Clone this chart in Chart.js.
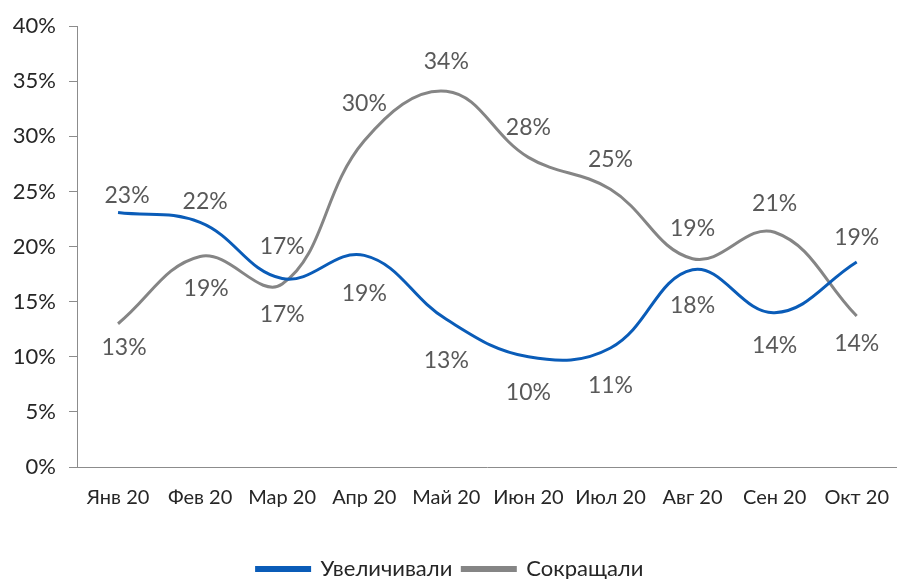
<!DOCTYPE html>
<html>
<head>
<meta charset="utf-8">
<script src="https://cdn.jsdelivr.net/npm/chart.js@4"></script>
<style>
  html, body { margin: 0; padding: 0; background: #fff; overflow: hidden; }
  #wrap { width: 900px; height: 590px; position: relative; }
</style>
</head>
<body>
<div id="wrap"><canvas id="c"></canvas></div>
<script>
// ---- data ----
const categories = ['Янв 20', 'Фев 20', 'Мар 20', 'Апр 20', 'Май 20', 'Июн 20', 'Июл 20', 'Авг 20', 'Сен 20', 'Окт 20'];
const increased = [23.1, 22.2, 17.1, 19.2, 13.4, 10.0, 10.8, 17.9, 14.0, 18.6];
const decreased = [13.0, 19.1, 16.6, 29.6, 34.1, 28.1, 25.2, 18.9, 21.3, 13.7];
const seriesNames = ['Увеличивали', 'Сокращали'];
const yMin = 0, yMax = 40, yStep = 5;

// ---- style (label placement, px) ----
const labelDy = [
  [-17, -21, 36, 38, 41, 36, 38, 36, 33, -24],
  [24, 32, -37, -37, -30, -30, -30, -30, -29, 28]
];
const labelDx = [
  [9, 5, 0, 0, 0, 0, 0, 0, 0, 0],
  [6, 6, 0, 0, 0, 0, 0, 0, 0, 0]
];

const FONT = "Lato, 'Open Sans', sans-serif";

const pointLabels = {
  id: 'pointLabels',
  afterDatasetsDraw(chart) {
    const ctx = chart.ctx;
    ctx.save();
    ctx.font = "23px " + FONT;
    ctx.fillStyle = '#595959';
    ctx.textAlign = 'center';
    ctx.textBaseline = 'middle';
    chart.data.datasets.forEach((ds, d) => {
      const meta = chart.getDatasetMeta(d);
      meta.data.forEach((pt, i) => {
        const v = ds.data[i];
        ctx.fillText(Math.round(v) + '%', pt.x + labelDx[d][i], pt.y + labelDy[d][i]);
      });
    });
    ctx.restore();
  }
};

new Chart(document.getElementById('c'), {
  type: 'line',
  data: {
    labels: categories,
    datasets: [
      { label: seriesNames[0], data: increased, borderColor: '#0A5CB8', backgroundColor: '#0A5CB8',
        borderWidth: 3, pointRadius: 0, tension: 0.4, fill: false },
      { label: seriesNames[1], data: decreased, borderColor: '#858585', backgroundColor: '#858585',
        borderWidth: 3, pointRadius: 0, tension: 0.4, fill: false }
    ]
  },
  options: {
    responsive: true,
    maintainAspectRatio: false,
    animation: false,
    layout: { padding: { top: 23, left: 0, right: 0, bottom: 0 } },
    plugins: {
      tooltip: { enabled: false },
      legend: {
        position: 'bottom',
        labels: {
          boxWidth: 53, boxHeight: 3, padding: 10,
          color: '#262626',
          font: { family: FONT, size: 22 }
        }
      }
    },
    scales: {
      x: {
        offset: true,
        grid: { display: false },
        border: { display: true, color: '#8C8C8C', width: 1 },
        ticks: { color: '#262626', font: { family: FONT, size: 20 }, padding: 11, maxRotation: 0, autoSkip: false },
        afterFit(s) { s.height = 81; }
      },
      y: {
        min: yMin, max: yMax,
        ticks: { stepSize: yStep, color: '#262626', font: { family: FONT, size: 22 }, padding: 13,
                 callback: v => v + '%' },
        grid: { drawOnChartArea: false, drawTicks: true, tickLength: 8, color: '#8C8C8C' },
        border: { display: true, color: '#8C8C8C', width: 1 },
        afterFit(s) { s.width = 77; }
      }
    }
  },
  plugins: [pointLabels]
});
</script>
</body>
</html>
